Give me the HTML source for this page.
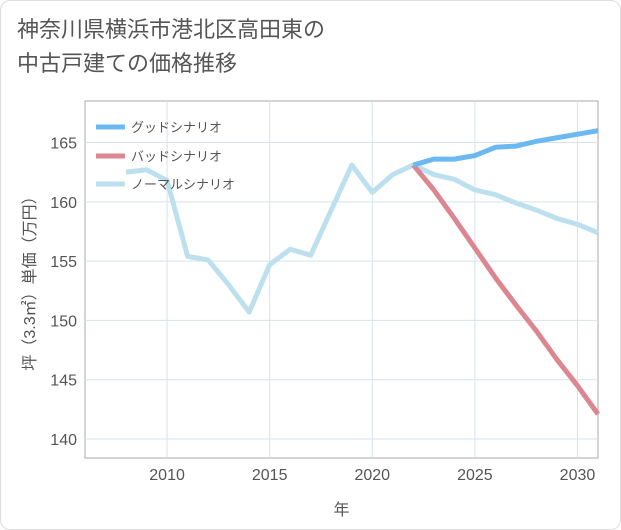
<!DOCTYPE html>
<html><head><meta charset="utf-8"><style>
body{margin:0;background:#fff;font-family:"Liberation Sans","Noto Sans CJK JP",sans-serif;}
#wrap{position:relative;width:621px;height:530px;background:#fff;border-radius:10px;border:1px solid #ddd;box-sizing:border-box;overflow:hidden}
#title{position:absolute;left:16px;top:12px;font-size:22px;line-height:34px;color:#555;}
</style></head><body>
<div id="wrap">
<div id="title">神奈川県横浜市港北区高田東の<br>中古戸建ての価格推移</div>
<svg id="chart" width="621" height="530" style="position:absolute;left:0;top:0"></svg>
</div>
<script>
const years=[2008,2009,2010,2011,2012,2013,2014,2015,2016,2017,2018,2019,2020,2021,2022,2023,2024,2025,2026,2027,2028,2029,2030,2031];
const normal=[162.5,162.7,161.8,155.4,155.1,153.0,150.7,154.7,156.0,155.5,159.3,163.1,160.8,162.3,163.1,162.3,161.9,161.0,160.6,159.9,159.3,158.6,158.1,157.4];
const goodYears=[2022,2023,2024,2025,2026,2027,2028,2029,2030,2031];
const good=[163.1,163.6,163.6,163.9,164.6,164.7,165.1,165.4,165.7,166.0];
const bad=[163.1,161.0,158.6,156.1,153.6,151.3,149.1,146.7,144.5,142.1];
const xTicks=[2010,2015,2020,2025,2030];
const yTicks=[140,145,150,155,160,165];
const L=84,R=597,T=100,B=457;
const xMin=2006,xMax=2031,yMin=138.4,yMax=168.5;
const X=v=>L+(v-xMin)/(xMax-xMin)*(R-L);
const Y=v=>B-(v-yMin)/(yMax-yMin)*(B-T);
const svg=document.getElementById('chart');
const NS='http://www.w3.org/2000/svg';
function mk(t,a){const e=document.createElementNS(NS,t);for(const k in a)e.setAttribute(k,a[k]);svg.appendChild(e);return e;}
const bg=mk('rect',{x:L,y:T,width:R-L,height:B-T,fill:'#fff',stroke:'#aaa'});


xTicks.forEach(v=>{
 const g=mk('line',{x1:X(v),x2:X(v),y1:T,y2:B,stroke:'#d5e3ee'});
 
 
 const t=mk('text',{x:X(v),y:B+22,'text-anchor':'middle','font-size':16,fill:'#555'});
 t.textContent=v;
 
 
});
yTicks.forEach(v=>{
 const g=mk('line',{x1:L,x2:R,y1:Y(v),y2:Y(v),stroke:'#d5e3ee'});
 
 
 const t=mk('text',{x:L-8,y:Y(v)+6,'text-anchor':'end','font-size':16,fill:'#555'});
 t.textContent=v;
 
 
});
function line(xs,ys,color,name){
 const p=mk('polyline',{points:xs.map((x,i)=>X(x)+','+Y(ys[i])).join(' '),fill:'none',stroke:color,'stroke-width':5,'stroke-linejoin':'round'});
 
 
}
line(years,normal,'#bde0ee','series-normal');
line(goodYears,bad,'#dc8790','series-bad');
line(goodYears,good,'#6bb9f0','series-good');
const legend=[['グッドシナリオ','#6bb9f0',126],['バッドシナリオ','#dc8790',155],['ノーマルシナリオ','#bde0ee',183]];
legend.forEach(([n,c,y])=>{
 const l=mk('line',{x1:95,x2:124,y1:y,y2:y,stroke:c,'stroke-width':5});
 
 
 const t=mk('text',{x:130,y:y+5,'font-size':13,fill:'#555'});
 t.textContent=n;
 
 
});
const xt=mk('text',{x:(L+R)/2,y:514,'text-anchor':'middle','font-size':16,fill:'#555'});
xt.textContent='年';


const yt=mk('text',{x:0,y:0,'text-anchor':'middle','font-size':16,fill:'#555',transform:'translate(34,'+((T+B)/2)+') rotate(-90)'});
yt.textContent='坪（3.3㎡）単価（万円）';


</script>
</body></html>
